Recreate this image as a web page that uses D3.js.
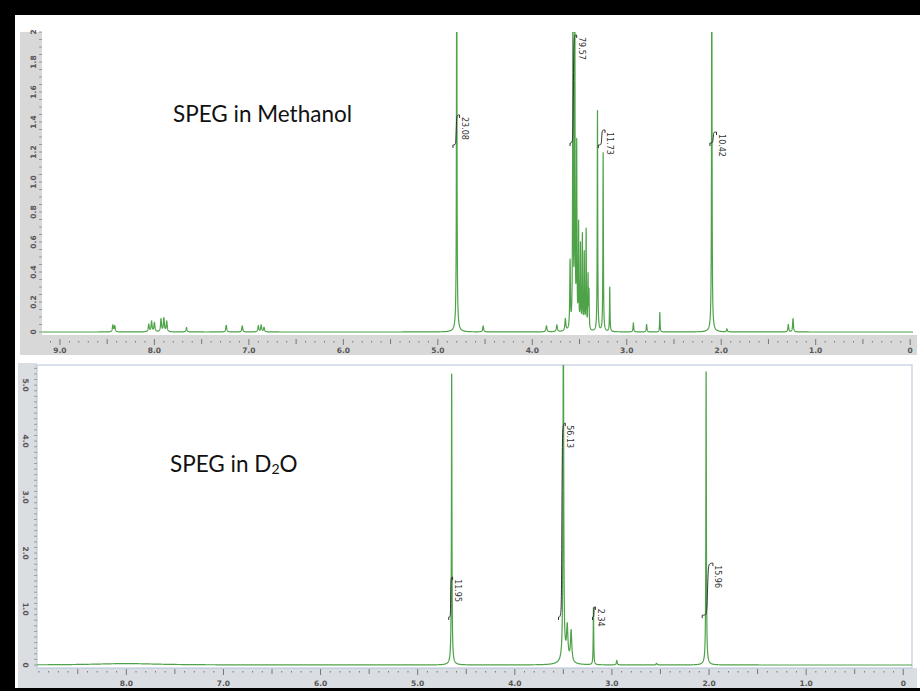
<!DOCTYPE html>
<html><head><meta charset="utf-8">
<script src="https://cdn.jsdelivr.net/npm/d3@7"></script>
<style>
body{margin:0;background:#fff}
svg{display:block}
.tk{font-family:"DejaVu Sans",sans-serif;font-size:7.5px;fill:#555;font-weight:bold}
.il{font-family:"DejaVu Sans",sans-serif;font-size:8px;fill:#333}
.ttl{font-family:Lato,"Open Sans",sans-serif;font-size:22.5px;fill:#111}
</style>
</head><body>
<svg id="c" width="920" height="691"></svg>
<script>
// ---- SPEG in methanol-d4: resolved lines (ppm, height, half-width in ppm)
const methanolPpm    = [8.44, 8.42, 8.06, 8.03, 8.00, 7.93, 7.90, 7.87, 7.66, 7.24, 7.07, 6.90, 6.87, 6.84,
                        4.80, 4.80, 4.52, 3.85, 3.74, 3.65, 3.60,
                        3.57, 3.55, 3.53, 3.51, 3.49, 3.47, 3.45, 3.43, 3.41, 3.40,
                        3.31, 3.25, 3.18, 2.93, 2.79, 2.65, 2.10, 2.10, 1.94, 1.29, 1.24];
const methanolHeight = [0.045, 0.04, 0.05, 0.07, 0.06, 0.085, 0.09, 0.07, 0.03, 0.045, 0.04, 0.04, 0.045, 0.03,
                        2.8, 0.04, 0.04, 0.04, 0.045, 0.08, 0.45,
                        2.6, 2.4, 1.2, 0.68, 0.55, 0.62, 0.5, 0.66, 0.35, 0.25,
                        1.47, 1.19, 0.30, 0.06, 0.05, 0.13, 2.6, 0.03, 0.02, 0.05, 0.09];
const methanolWidth  = [0.006, 0.006, 0.006, 0.006, 0.006, 0.006, 0.006, 0.006, 0.006, 0.006, 0.006, 0.006, 0.006, 0.006,
                        0.003, 0.02, 0.006, 0.006, 0.006, 0.006, 0.004,
                        0.003, 0.003, 0.003, 0.003, 0.003, 0.003, 0.003, 0.003, 0.003, 0.003,
                        0.003, 0.003, 0.003, 0.004, 0.004, 0.003, 0.003, 0.02, 0.005, 0.005, 0.005];

// ---- SPEG in D2O
const d2oPpm    = [8.00, 4.65, 4.65, 3.50, 3.48, 3.46, 3.42, 3.19, 2.95, 2.54, 2.03, 2.03];
const d2oHeight = [0.025, 5.21, 0.08, 6.5, 0.15, 0.55, 0.55, 1.04, 0.08, 0.03, 5.27, 0.06];
const d2oWidth  = [0.4, 0.003, 0.02, 0.004, 0.04, 0.008, 0.008, 0.003, 0.005, 0.006, 0.003, 0.02];

// ---- integral regions (ppm start/end, integral curve low/high in intensity units, value)
const methanolIntStart = [4.84, 3.60, 3.30, 2.12];
const methanolIntEnd   = [4.77, 3.53, 3.23, 2.05];
const methanolIntLow   = [1.247, 1.26, 1.247, 1.26];
const methanolIntHigh  = [1.447, 1.98, 1.347, 1.333];
const methanolIntLabel = ["23.08", "79.57", "11.73", "10.42"];

const d2oIntStart = [4.68, 3.55, 3.20, 2.07];
const d2oIntEnd   = [4.64, 3.48, 3.17, 1.96];
const d2oIntLow   = [0.857, 0.857, 0.857, 0.89];
const d2oIntHigh  = [1.57, 4.32, 1.04, 1.82];
const d2oIntLabel = ["11.95", "56.13", "2.34", "15.96"];

// ---- axis tick labels
const ppmTicksTop = [9, 8, 7, 6, 5, 4, 3, 2, 1, 0];
const ppmLabelsTop = ["9.0", "8.0", "7.0", "6.0", "5.0", "4.0", "3.0", "2.0", "1.0", "0"];
const ppmTicksBot = [8, 7, 6, 5, 4, 3, 2, 1, 0];
const ppmLabelsBot = ["8.0", "7.0", "6.0", "5.0", "4.0", "3.0", "2.0", "1.0", "0"];
const intTicksTop = [0, 0.2, 0.4, 0.6, 0.8, 1.0, 1.2, 1.4, 1.6, 1.8, 2.0];
const intLabelsTop = ["0", "0.2", "0.4", "0.6", "0.8", "1.0", "1.2", "1.4", "1.6", "1.8", "2"];
const intTicksBot = [0, 1, 2, 3, 4, 5];
const intLabelsBot = ["0", "1.0", "2.0", "3.0", "4.0", "5.0"];

const svg = d3.select("#c");

// Lorentzian line shape summed over the peak list
function spectrum(ppms, hs, ws, lo, hi, step) {
  const pts = [];
  for (let p = hi; p >= lo; p -= step) {
    let v = 0;
    for (let i = 0; i < ppms.length; i++) {
      const d = p - ppms[i];
      v += hs[i] * ws[i] * ws[i] / (d * d + ws[i] * ws[i]);
    }
    pts.push([p, v]);
  }
  return pts;
}

function panel(cfg) {
  const x = d3.scaleLinear().domain(cfg.xDomain).range(cfg.xRange);
  const y = d3.scaleLinear().domain(cfg.yDomain).range(cfg.yRange);
  const g = svg.append("g");

  // axis strips
  g.append("rect").attr("x", cfg.yStrip[0]).attr("y", cfg.yStrip[1])
    .attr("width", cfg.yStrip[2]).attr("height", cfg.yStrip[3]).attr("fill", cfg.stripFill);
  g.append("rect").attr("x", cfg.xStrip[0]).attr("y", cfg.xStrip[1])
    .attr("width", cfg.xStrip[2]).attr("height", cfg.xStrip[3]).attr("fill", cfg.stripFill);
  const top = d3.min(cfg.yRange), bottom = d3.max(cfg.yRange) + cfg.plotPadBottom;
  g.append("rect").attr("x", cfg.xRange[0]).attr("y", top)
    .attr("width", cfg.xRange[1] - cfg.xRange[0]).attr("height", bottom - top)
    .attr("fill", "#fff").attr("stroke", cfg.frame || "none").attr("stroke-width", 1);

  // x axis: whole, half and tenth ppm ticks
  const xa = g.append("g").attr("transform", `translate(0,${cfg.xAxisY})`);
  const minor = d3.range(Math.ceil(cfg.xDomain[1] * 10), Math.floor(cfg.xDomain[0] * 10) + 1).map(d => d / 10);
  const isHalf = d => Math.abs(d * 2 - Math.round(d * 2)) < 1e-6;
  const isWhole = d => Math.abs(d - Math.round(d)) < 1e-6;
  xa.selectAll("line.m").data(minor).join("line")
    .attr("x1", d => x(d)).attr("x2", d => x(d))
    .attr("y1", d => isHalf(d) ? -1 : 1)
    .attr("y2", d => isWhole(d) ? 5 : (isHalf(d) ? 4 : 2.5))
    .attr("stroke", "#777").attr("stroke-width", 1);
  xa.selectAll("text").data(cfg.xTicks).join("text").attr("class", "tk")
    .attr("x", d => x(d)).attr("y", cfg.xLabelDy).attr("text-anchor", "middle")
    .text((d, i) => cfg.xLabels[i]);

  // y axis
  const ya = g.append("g").attr("transform", `translate(${cfg.yAxisX},0)`);
  const yMinor = d3.range(0, Math.round(cfg.yDomain[1] / cfg.yMinorStep) + 1).map(i => i * cfg.yMinorStep)
    .filter(d => y(d) >= top - 0.5);
  ya.selectAll("line").data(yMinor).join("line")
    .attr("x1", -3).attr("x2", 0).attr("y1", d => y(d)).attr("y2", d => y(d))
    .attr("stroke", "#8a8a8a").attr("stroke-width", 0.8);
  ya.selectAll("text").data(cfg.yTicks).join("text").attr("class", "tk")
    .attr("transform", d => `translate(${cfg.yLabelDx},${y(d)}) rotate(${cfg.yLabelRot})`)
    .attr("text-anchor", "middle").attr("dy", "0.35em")
    .text((d, i) => cfg.yLabels[i]);

  // spectrum, clipped to the plotting area
  const cid = "clip" + cfg.id;
  svg.append("clipPath").attr("id", cid).append("rect")
    .attr("x", cfg.xRange[0]).attr("y", top).attr("width", cfg.xRange[1] - cfg.xRange[0]).attr("height", bottom - top);
  const pts = spectrum(cfg.ppm, cfg.h, cfg.w, cfg.xDomain[1], cfg.xDomain[0], 0.0008);
  g.append("path").attr("clip-path", `url(#${cid})`)
    .datum(pts)
    .attr("d", d3.line().x(d => x(d[0])).y(d => y(d[1])))
    .attr("fill", "none").attr("stroke", "#4ea248").attr("stroke-width", 1.2)
    .attr("stroke-linejoin", "round");

  // integral curves and values
  const ig = g.append("g");
  const line = d3.line().curve(d3.curveBasis).x(d => x(d[0])).y(d => y(d[1]));
  cfg.iStart.forEach((s, i) => {
    const e = cfg.iEnd[i], lo = cfg.iLow[i], hi = cfg.iHigh[i];
    const m = (s + e) / 2, q = (s - e) * 0.15;
    ig.append("path")
      .attr("d", line([[s, lo], [m + q, lo], [m + q * 0.3, lo + (hi - lo) * 0.1], [m - q * 0.3, hi - (hi - lo) * 0.1], [m - q, hi], [e, hi]]))
      .attr("fill", "none").attr("stroke", "#333").attr("stroke-width", 1);
    ig.append("line").attr("x1", x(s)).attr("x2", x(s)).attr("y1", y(lo)).attr("y2", y(lo) + 3)
      .attr("stroke", "#333").attr("stroke-width", 1);
    ig.append("line").attr("x1", x(e)).attr("x2", x(e)).attr("y1", y(hi)).attr("y2", y(hi) + 3)
      .attr("stroke", "#333").attr("stroke-width", 1);
    ig.append("text").attr("class", "il")
      .attr("transform", `translate(${x(e) + 5},${y(hi) + 2}) rotate(90)`)
      .attr("text-anchor", "start").attr("dy", "0.35em")
      .text(cfg.iLabel[i]);
  });

  // panel title
  const t = g.append("text").attr("class", "ttl").attr("x", cfg.title[0]).attr("y", cfg.title[1]);
  cfg.titleParts.forEach(pt => {
    const s = t.append("tspan").text(pt[0]);
    if (pt[1]) s.attr("font-size", "14px").attr("dy", "2");
    else if (pt[2]) s.attr("dy", "-2");
  });
}

panel({
  id: "top",
  xDomain: [9.19, -0.03], xRange: [42, 913],
  yDomain: [0, 2], yRange: [332, 32],
  plotPadBottom: 3,
  yStrip: [20, 32, 22, 320], xStrip: [20, 335, 897, 20], stripFill: "#d8d8d8",
  xAxisY: 340, xLabelDy: 13, xTicks: ppmTicksTop, xLabels: ppmLabelsTop,
  yAxisX: 42, yLabelDx: -9, yLabelRot: -90, yMinorStep: 0.05, yTicks: intTicksTop, yLabels: intLabelsTop,
  ppm: methanolPpm, h: methanolHeight, w: methanolWidth,
  iStart: methanolIntStart, iEnd: methanolIntEnd, iLow: methanolIntLow, iHigh: methanolIntHigh, iLabel: methanolIntLabel,
  title: [173, 122], titleParts: [["SPEG in Methanol"]]
});

panel({
  id: "bot",
  xDomain: [8.92, -0.09], xRange: [37, 912],
  yDomain: [0, 5.36], yRange: [665, 365],
  plotPadBottom: 3,
  yStrip: [18, 363, 19, 325], xStrip: [18, 668, 899, 20], stripFill: "#dadde2",
  frame: "#b4c3da",
  xAxisY: 670, xLabelDy: 16, xTicks: ppmTicksBot, xLabels: ppmLabelsBot,
  yAxisX: 37, yLabelDx: -11, yLabelRot: 90, yMinorStep: 0.1, yTicks: intTicksBot, yLabels: intLabelsBot,
  ppm: d2oPpm, h: d2oHeight, w: d2oWidth,
  iStart: d2oIntStart, iEnd: d2oIntEnd, iLow: d2oIntLow, iHigh: d2oIntHigh, iLabel: d2oIntLabel,
  title: [170, 472], titleParts: [["SPEG in D"], ["2", true], ["O", false, true]]
});

// black picture frame
svg.append("rect").attr("x", 0).attr("y", 0).attr("width", 920).attr("height", 15).attr("fill", "#000");
svg.append("rect").attr("x", 0).attr("y", 0).attr("width", 15).attr("height", 691).attr("fill", "#000");
svg.append("rect").attr("x", 0).attr("y", 688).attr("width", 920).attr("height", 3).attr("fill", "#000");
</script>
</body></html>
